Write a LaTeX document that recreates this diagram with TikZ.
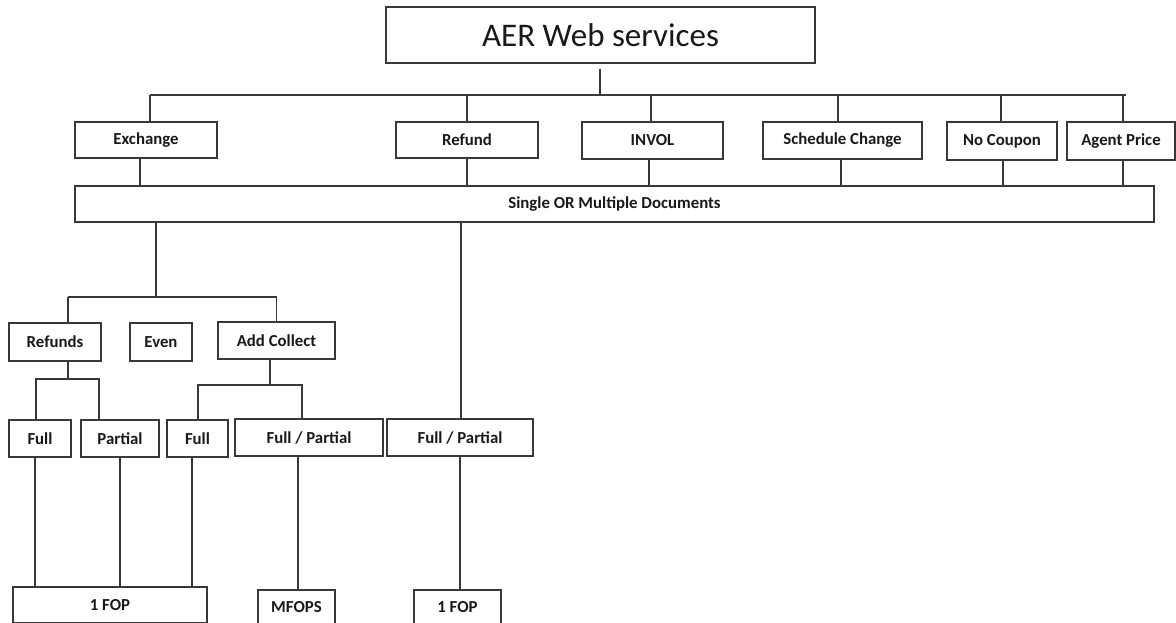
\documentclass[tikz,border=0pt]{standalone}
\usepackage{fontspec}
\setmainfont{Carlito}
\begin{document}
\begin{tikzpicture}[x=1pt,y=-1pt,
  box/.style={draw=black!78,line width=1.4pt,rectangle,inner sep=0pt,font=\bfseries\fontsize{16.8}{18}\selectfont,text=black!90},
  conn/.style={draw=black!78,line width=1.4pt}]
\useasboundingbox (0,0) rectangle (1176,623);
\clip (0,0) rectangle (1176,623);
% nodes
\node[box,minimum width=429,minimum height=56,font=\fontsize{33}{36}\selectfont] (top) at (600.5,35) {AER Web services};
\node[box,minimum width=142,minimum height=36] (exch) at (146,140) {Exchange};
\node[box,minimum width=142,minimum height=36] (refund) at (467,140) {Refund};
\node[box,minimum width=141,minimum height=37] (invol) at (652.5,140.5) {INVOL};
\node[box,minimum width=159,minimum height=37] (sched) at (842.5,140.5) {Schedule Change};
\node[box,minimum width=110,minimum height=38] (nocoup) at (1002,141) {No Coupon};
\node[box,minimum width=108,minimum height=38] (agent) at (1121,141) {Agent Price};
\node[box,minimum width=1079,minimum height=36] (som) at (614.5,204) {Single OR Multiple Documents};
\node[box,minimum width=92,minimum height=38] (refunds) at (55,342) {Refunds};
\node[box,minimum width=62,minimum height=38] (even) at (161,342) {Even};
\node[box,minimum width=117,minimum height=37] (addc) at (276.5,340.5) {Add Collect};
\node[box,minimum width=62,minimum height=37] (full1) at (40,438.5) {Full};
\node[box,minimum width=78,minimum height=37] (partial) at (120,438.5) {Partial};
\node[box,minimum width=61,minimum height=37] (full2) at (197.5,438.5) {Full};
\node[box,minimum width=148,minimum height=37] (fp1) at (309,437.5) {Full / Partial};
\node[box,minimum width=146,minimum height=37] (fp2) at (460,437.5) {Full / Partial};
\node[box,minimum width=194,minimum height=36] (fop1) at (110,605) {1 FOP};
\node[box,minimum width=77,minimum height=34] (mfops) at (296.5,607) {MFOPS};
\node[box,minimum width=87,minimum height=34] (fop2) at (457.5,607) {1 FOP};
% top bus
\coordinate (busL) at (150,95);
\coordinate (busR) at (1126,95);
\draw[conn] (busL) -- (busR);
\draw[conn] ([xshift=-0.5pt,yshift=-5pt]top.south) -- ([xshift=-0.5pt]top.south |- busL);
\draw[conn] ([xshift=4pt]exch.north) |- (busL);
\draw[conn] (refund.north) |- (busL);
\draw[conn] ([xshift=-1.5pt]invol.north) |- (busL);
\draw[conn] ([xshift=-4.5pt]sched.north) |- (busL);
\draw[conn] ([xshift=-1pt]nocoup.north) |- (busL);
\draw[conn] ([xshift=2pt]agent.north) |- (busL);
% to SOM
\draw[conn] ([xshift=-6pt]exch.south) |- (som.north);
\draw[conn] (refund.south) |- (som.north);
\draw[conn] ([xshift=-3.5pt]invol.south) |- (som.north);
\draw[conn] ([xshift=-1.5pt]sched.south) |- (som.north);
\draw[conn] ([xshift=1pt]nocoup.south) |- (som.north);
\draw[conn] ([xshift=2pt]agent.south) |- (som.north);
% exchange branch
\coordinate (b2L) at (68,297);
\coordinate (b2R) at (276,297);
\coordinate (s1) at (156,297);
\draw[conn] (b2L) -- (b2R);
\draw[conn] (s1) -- (s1 |- som.south);
\draw[conn] ([xshift=13pt]refunds.north) |- (b2L);
\draw[conn] (addc.north) |- (b2R);
\draw[conn] ([xshift=1pt]fp2.north) -- ([xshift=1pt]fp2.north |- som.south);
% refunds branch
\coordinate (b3) at (68,379);
\draw[conn] ([xshift=13pt]refunds.south) -- (b3);
\draw[conn] ([xshift=-4pt]full1.north) |- (b3);
\draw[conn] ([xshift=-21pt]partial.north) |- (b3);
% add collect branch
\coordinate (b4) at (270,385);
\draw[conn] ([xshift=-6.5pt]addc.south) -- (b4);
\draw[conn] ([xshift=0.5pt]full2.north) |- (b4);
\draw[conn] ([xshift=-7pt]fp1.north) |- (b4);
% to bottom boxes
\draw[conn] ([xshift=-5pt]full1.south) |- (fop1.north);
\draw[conn] (partial.south) |- (fop1.north);
\draw[conn] ([xshift=-5.5pt]full2.south) |- (fop1.north);
\draw[conn] ([xshift=-11pt]fp1.south) |- (mfops.north);
\draw[conn] (fp2.south) |- (fop2.north);
\end{tikzpicture}
\end{document}
